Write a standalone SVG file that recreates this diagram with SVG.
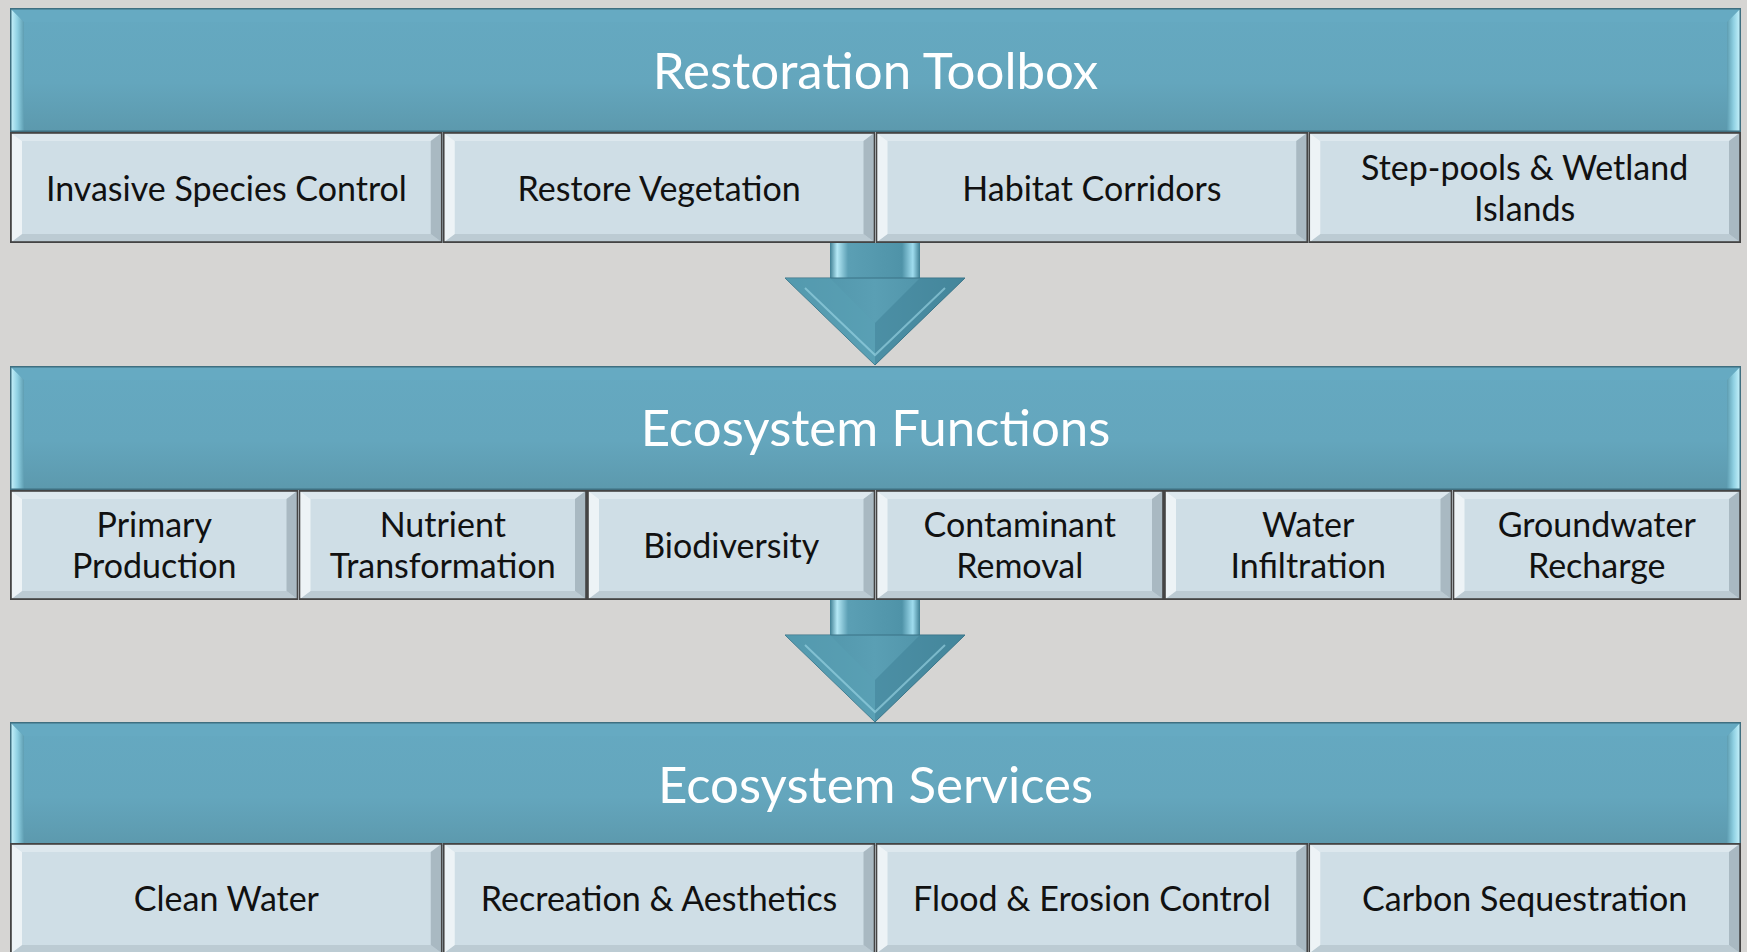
<svg xmlns="http://www.w3.org/2000/svg" xmlns:xlink="http://www.w3.org/1999/xlink" width="1747" height="952" viewBox="0 0 1747 952">
<style>
.title{font-family:Lato,"Open Sans","Liberation Sans",sans-serif;font-size:51px;fill:#ffffff;text-anchor:middle;dominant-baseline:central}
.lbl{font-family:Lato,"Open Sans","Liberation Sans",sans-serif;font-size:34px;fill:#111111;text-anchor:middle;dominant-baseline:central}
.hdr{fill:url(#hdrGrad);stroke:#3f6f80;stroke-width:1.5}
.edge{fill:none;stroke:#444444;stroke-width:1.8}
</style>
<defs>
<linearGradient id="hdrGrad" x1="0" y1="0" x2="0" y2="1">
<stop offset="0" stop-color="#65a9c1"/>
<stop offset="0.6" stop-color="#64a6bd"/>
<stop offset="1" stop-color="#5c99ad"/>
</linearGradient>
<linearGradient id="leftBev" x1="0" y1="0" x2="1" y2="0">
<stop offset="0" stop-color="#c5f1fb"/>
<stop offset="0.5" stop-color="#8fd0e2"/>
<stop offset="1" stop-color="#5e9db1"/>
</linearGradient>
<linearGradient id="rightBev" x1="0" y1="0" x2="1" y2="0">
<stop offset="0" stop-color="#5e9db1"/>
<stop offset="0.5" stop-color="#8fd0e2"/>
<stop offset="1" stop-color="#c5f1fb"/>
</linearGradient>
<linearGradient id="arrGrad" x1="0" y1="0" x2="1" y2="0">
<stop offset="0" stop-color="#4d91a6"/>
<stop offset="0.5" stop-color="#5a9fb4"/>
<stop offset="1" stop-color="#4a8ca1"/>
</linearGradient>
<linearGradient id="shaftGrad" x1="0" y1="0" x2="1" y2="0">
<stop offset="0" stop-color="#3f7f93"/>
<stop offset="0.08" stop-color="#b4e8f5"/>
<stop offset="0.2" stop-color="#5b9fb4"/>
<stop offset="0.8" stop-color="#4f93a8"/>
<stop offset="0.92" stop-color="#9fdcee"/>
<stop offset="1" stop-color="#3f7f93"/>
</linearGradient>
<symbol id="cellW" viewBox="0 0 432.75 111" width="432.75" height="111">
<rect x="0" y="0" width="432.75" height="111" fill="#cfdee6"/>
<polygon points="0,0 432.75,0 420.75,9 12,9" fill="#dde8ee"/>
<polygon points="0,111 432.75,111 420.75,102 12,102" fill="#bccbd3"/>
<polygon points="0,0 12,9 12,102 0,111" fill="#edf3f6"/>
<polygon points="432.75,0 420.75,9 420.75,102 432.75,111" fill="#a9b9c2"/>
<rect x="0.9" y="0.9" width="430.95" height="109.2" class="edge"/>
</symbol>
<symbol id="cellN" viewBox="0 0 288.5 110" width="288.5" height="110">
<rect x="0" y="0" width="288.5" height="110" fill="#cfdee6"/>
<polygon points="0,0 288.5,0 276.5,9 12,9" fill="#dde8ee"/>
<polygon points="0,110 288.5,110 276.5,101 12,101" fill="#bccbd3"/>
<polygon points="0,0 12,9 12,101 0,110" fill="#edf3f6"/>
<polygon points="288.5,0 276.5,9 276.5,101 288.5,110" fill="#a9b9c2"/>
<rect x="0.9" y="0.9" width="286.7" height="108.2" class="edge"/>
</symbol>
<symbol id="hdr" viewBox="0 0 1731 124" width="1731" height="124">
<rect x="0" y="0" width="1731" height="124" class="hdr"/>
<polygon points="1,1 14,14 14,124 1,124" fill="url(#leftBev)"/>
<polygon points="1730,1 1717,14 1717,124 1730,124" fill="url(#rightBev)"/>
<polygon points="1,1 1730,1 1717,14 14,14" fill="#67abc3" opacity="0.6"/>
<rect x="0.75" y="0.75" width="1729.5" height="122.5" fill="none" stroke="#3f6f80" stroke-width="1.5"/>
</symbol>
<symbol id="arrow" viewBox="0 0 180 122" width="180" height="122" overflow="visible">
<rect x="45" y="0" width="90" height="36" fill="url(#shaftGrad)"/>
<polygon points="0,35 180,35 90,122" fill="url(#arrGrad)" stroke="#3a7386" stroke-width="1"/>
<polygon points="0,35 45,35 90,80 90,122" fill="#5aa0b5" opacity="0.55"/>
<polygon points="180,35 135,35 90,80 90,122" fill="#3e8095" opacity="0.5"/>
<polyline points="20,45 90,112 160,45" fill="none" stroke="#9fd8e8" stroke-width="2" opacity="0.6"/>
</symbol>
</defs>
<rect x="0" y="0" width="1747" height="952" fill="#d6d5d3"/>

<g id="connectors">
<use href="#arrow" xlink:href="#arrow" x="785" y="243"/>
<use href="#arrow" xlink:href="#arrow" x="785" y="600"/>
</g>

<g id="row1">
<g id="restoration-toolbox">
<use href="#hdr" xlink:href="#hdr" x="10" y="8"/>
<text class="title" x="875.5" y="69">Restoration Toolbox</text>
</g>
<g id="invasive-species-control">
<use href="#cellW" xlink:href="#cellW" x="10" y="132"/>
<text class="lbl" x="226.4" y="187">Invasive Species Control</text>
</g>
<g id="restore-vegetation">
<use href="#cellW" xlink:href="#cellW" x="442.75" y="132"/>
<text class="lbl" x="659.1" y="187">Restore Vegetation</text>
</g>
<g id="habitat-corridors">
<use href="#cellW" xlink:href="#cellW" x="875.5" y="132"/>
<text class="lbl" x="1091.9" y="187">Habitat Corridors</text>
</g>
<g id="step-pools">
<use href="#cellW" xlink:href="#cellW" x="1308.25" y="132"/>
<text class="lbl" x="1524.6" y="166">Step-pools &amp; Wetland</text>
<text class="lbl" x="1524.6" y="207">Islands</text>
</g>
</g>

<g id="row2">
<g id="ecosystem-functions">
<use href="#hdr" xlink:href="#hdr" x="10" y="366"/>
<text class="title" x="875.5" y="426">Ecosystem Functions</text>
</g>
<g id="primary-production">
<use href="#cellN" xlink:href="#cellN" x="10" y="490"/>
<text class="lbl" x="154.25" y="523">Primary</text>
<text class="lbl" x="154.25" y="564">Production</text>
</g>
<g id="nutrient-transformation">
<use href="#cellN" xlink:href="#cellN" x="298.5" y="490"/>
<text class="lbl" x="442.75" y="523">Nutrient</text>
<text class="lbl" x="442.75" y="564">Transformation</text>
</g>
<g id="biodiversity">
<use href="#cellN" xlink:href="#cellN" x="587" y="490"/>
<text class="lbl" x="731.25" y="544">Biodiversity</text>
</g>
<g id="contaminant-removal">
<use href="#cellN" xlink:href="#cellN" x="875.5" y="490"/>
<text class="lbl" x="1019.75" y="523">Contaminant</text>
<text class="lbl" x="1019.75" y="564">Removal</text>
</g>
<g id="water-infiltration">
<use href="#cellN" xlink:href="#cellN" x="1164" y="490"/>
<text class="lbl" x="1308.25" y="523">Water</text>
<text class="lbl" x="1308.25" y="564">Infiltration</text>
</g>
<g id="groundwater-recharge">
<use href="#cellN" xlink:href="#cellN" x="1452.5" y="490"/>
<text class="lbl" x="1596.75" y="523">Groundwater</text>
<text class="lbl" x="1596.75" y="564">Recharge</text>
</g>
</g>

<g id="row3">
<g id="ecosystem-services">
<use href="#hdr" xlink:href="#hdr" x="10" y="722"/>
<text class="title" x="875.5" y="783">Ecosystem Services</text>
</g>
<g id="clean-water">
<use href="#cellW" xlink:href="#cellW" x="10" y="843"/>
<text class="lbl" x="226.4" y="897">Clean Water</text>
</g>
<g id="recreation-aesthetics">
<use href="#cellW" xlink:href="#cellW" x="442.75" y="843"/>
<text class="lbl" x="659.1" y="897">Recreation &amp; Aesthetics</text>
</g>
<g id="flood-erosion-control">
<use href="#cellW" xlink:href="#cellW" x="875.5" y="843"/>
<text class="lbl" x="1091.9" y="897">Flood &amp; Erosion Control</text>
</g>
<g id="carbon-sequestration">
<use href="#cellW" xlink:href="#cellW" x="1308.25" y="843"/>
<text class="lbl" x="1524.6" y="897">Carbon Sequestration</text>
</g>
</g>
</svg>
